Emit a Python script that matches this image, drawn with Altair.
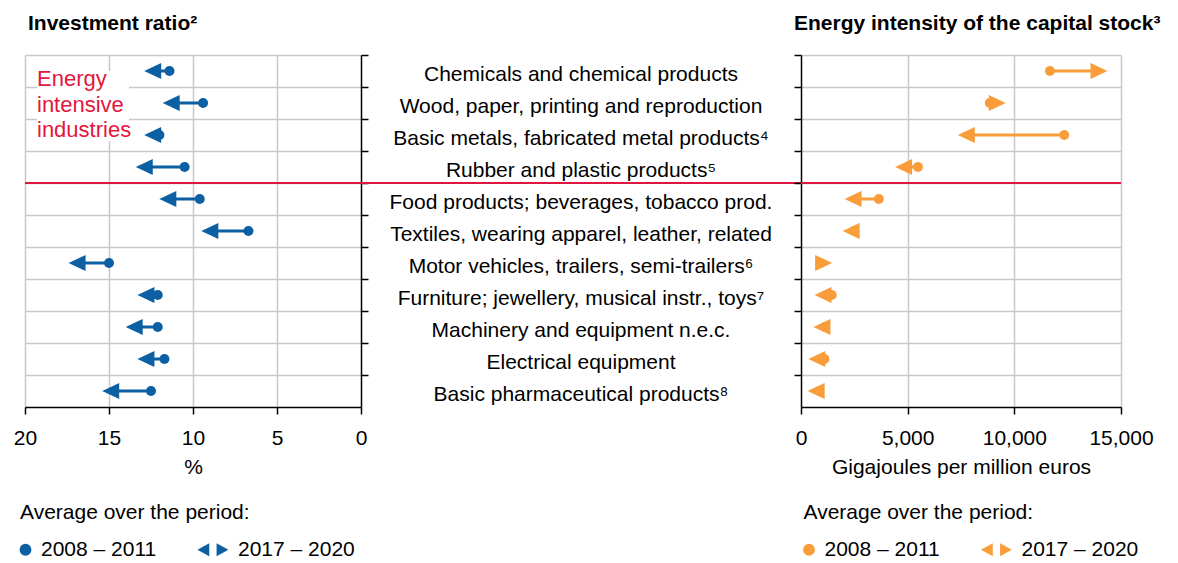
import altair as alt
import pandas as pd

FONT = "Liberation Sans"
BLUE = "#0c5fa3"
ORANGE = "#f99d3b"
RED = "#dd1740"
GRID = "#c8c8c8"

industries = [
    "Chemicals and chemical products",
    "Wood, paper, printing and reproduction",
    "Basic metals, fabricated metal products⁴",
    "Rubber and plastic products⁵",
    "Food products; beverages, tobacco prod.",
    "Textiles, wearing apparel, leather, related",
    "Motor vehicles, trailers, semi-trailers⁶",
    "Furniture; jewellery, musical instr., toys⁷",
    "Machinery and equipment n.e.c.",
    "Electrical equipment",
    "Basic pharmaceutical products⁸",
]

# investment ratio, %
investment_2008_2011 = [11.4, 9.4, 12.0, 10.5, 9.6, 6.7, 15.0, 12.1, 12.1, 11.7, 12.5]
investment_2017_2020 = [12.4, 11.3, 12.4, 12.9, 11.5, 9.0, 16.9, 12.8, 13.5, 12.8, 14.9]

# energy intensity, gigajoules per million euros
energy_2008_2011 = [11670, 8850, 12340, 5480, 3650, 2500, 920, 1440, 1120, 1100, 860]
energy_2017_2020 = [13970, 9200, 7750, 4810, 2440, 2350, 1060, 1030, 980, 740, 710]

periods = ["2008 – 2011", "2017 – 2020"]
first_non_intensive = industries[4]

# symbol paths: legend pair of heads, left / right arrow heads
PAIR = "M1,0L-1,-1.1L-1,1.1Z M-4.24,0L-2.24,-1.1L-2.24,1.1Z"
HEAD_L = "M-1,0L1,-0.94L1,0.94Z"
HEAD_R = "M1,0L-1,-0.94L-1,0.94Z"
shape_scale = alt.Scale(domain=periods + ["left", "right"],
                        range=["circle", PAIR, HEAD_L, HEAD_R])

y_scale = alt.Scale(type="band", domain=industries, paddingInner=0, paddingOuter=0)


def y_enc(orient, **kw):
    if orient is None:
        axis = None
    else:
        axis = alt.Axis(orient=orient, bandPosition=0, labels=False, title=None,
                        grid=True, ticks=True, tickSize=7)
    return alt.Y("industry:N", scale=y_scale, axis=axis, **kw)


def panel(start, end, color, x_scale, x_axis, x_lo, x_hi, y_orient, legend_x, reverse=False):
    df = pd.DataFrame({"industry": industries, "start": start, "end": end})
    # direction on screen (the left panel runs from 20 down to 0)
    df["dir"] = ["right" if (e > s) != reverse else "left" for s, e in zip(start, end)]
    df["period"] = periods[0]
    base = alt.Chart(df)

    legend = alt.Legend(values=periods, title="Average over the period:",
                        orient="none", legendX=legend_x, legendY=447,
                        direction="horizontal", padding=0, titleLimit=400,
                        titleFontSize=21, titleFontWeight="normal", titleColor="black",
                        titlePadding=16, labelFontSize=21, labelColor="black",
                        labelOffset=5, columnPadding=40, symbolSize=140,
                        symbolOffset=-5,
                        symbolStrokeWidth=0, symbolOpacity=1,
                        symbolFillColor=color)

    x_start = alt.X("start:Q", scale=x_scale, axis=x_axis)
    x_end = alt.X("end:Q", scale=x_scale, axis=x_axis)

    sep = alt.Chart(pd.DataFrame({"industry": [first_non_intensive]})).mark_rule(
        color=RED, strokeWidth=2
    ).encode(x=alt.datum(x_lo), x2=alt.datum(x_hi), y=y_enc(y_orient, bandPosition=0))

    line = base.mark_rule(color=color, strokeWidth=3).encode(
        x=x_start, x2="end:Q", y=y_enc(y_orient))
    heads = base.mark_point(filled=True, opacity=1, color=color, size=289, strokeWidth=0).encode(
        x=x_end, y=y_enc(y_orient),
        shape=alt.Shape("dir:N", scale=shape_scale, legend=legend))
    dots = base.mark_point(filled=True, opacity=1, color=color, size=100, strokeWidth=0).encode(
        x=x_start, y=y_enc(y_orient),
        shape=alt.Shape("period:N", scale=shape_scale, legend=legend))
    return [sep, line, heads, dots]


x_common = dict(grid=True, tickSize=7, labelPadding=13, titlePadding=8, labelFlush=False,
                gridOpacity={"condition": {"test": "datum.value === 0", "value": 0}, "value": 1})

left_layers = panel(
    investment_2008_2011, investment_2017_2020, BLUE,
    alt.Scale(domain=[0, 20], reverse=True, nice=False),
    alt.Axis(values=[0, 5, 10, 15, 20], title="%", **x_common),
    20, 0, "right", -5, reverse=True)

annot_box = alt.Chart(pd.DataFrame({"a": [0]})).mark_rect(color="white").encode(
    x=alt.value(12), x2=alt.value(104), y=alt.value(16), y2=alt.value(86))
annot_text = alt.Chart(pd.DataFrame({"t": ["Energy\nintensive\nindustries"]})).mark_text(
    lineBreak="\n", align="left", baseline="alphabetic", fontSize=22, lineHeight=25.7,
    color="#e3173e", font=FONT
).encode(text="t:N", x=alt.value(12), y=alt.value(31))

left = alt.layer(annot_box, annot_text, *left_layers).properties(
    width=336, height=352,
    title=alt.TitleParams("Investment ratio²", anchor="start", frame="group", dx=3,
                          offset=3, baseline="alphabetic", fontSize=21,
                          fontWeight="bold", color="black", font=FONT))

right_layers = panel(
    energy_2008_2011, energy_2017_2020, ORANGE,
    alt.Scale(domain=[0, 15000], nice=False),
    alt.Axis(values=[0, 5000, 10000, 15000], format=",d",
             title="Gigajoules per million euros", **x_common),
    0, 15000, "left", 2.5)

right = alt.layer(*right_layers).properties(
    width=320, height=352,
    title=alt.TitleParams("Energy intensity of the capital stock³", anchor="start",
                          frame="group", dx=-7, offset=3, baseline="alphabetic",
                          fontSize=21, fontWeight="bold", color="black", font=FONT))

labels_df = pd.DataFrame({"industry": industries})
mid_text = alt.Chart(labels_df).mark_text(
    fontSize=21, font=FONT, color="black", baseline="alphabetic", dy=10
).encode(text="industry:N", x=alt.value(220), y=y_enc(None))
mid_sep = alt.Chart(pd.DataFrame({"industry": [first_non_intensive]})).mark_rule(
    color=RED, strokeWidth=2
).encode(x=alt.value(0), x2=alt.value(440), y=y_enc(None, bandPosition=0))
mid = alt.layer(mid_text, mid_sep).properties(width=440, height=352)

chart = alt.hconcat(left, mid, right, spacing=0, bounds="flush").resolve_scale(
    shape="independent", x="independent"
).resolve_legend(shape="independent").configure(font=FONT).configure_view(
    stroke=None
).configure_axis(
    domainColor="black", domainWidth=1.5, tickColor="black", tickWidth=1.5,
    gridColor=GRID, gridWidth=1.5, labelFontSize=21, labelColor="black",
    titleFontSize=21, titleFontWeight="normal", titleColor="black",
    labelFont=FONT, titleFont=FONT
)

chart.save("out.html", embed_options={"renderer": "svg", "actions": False})
